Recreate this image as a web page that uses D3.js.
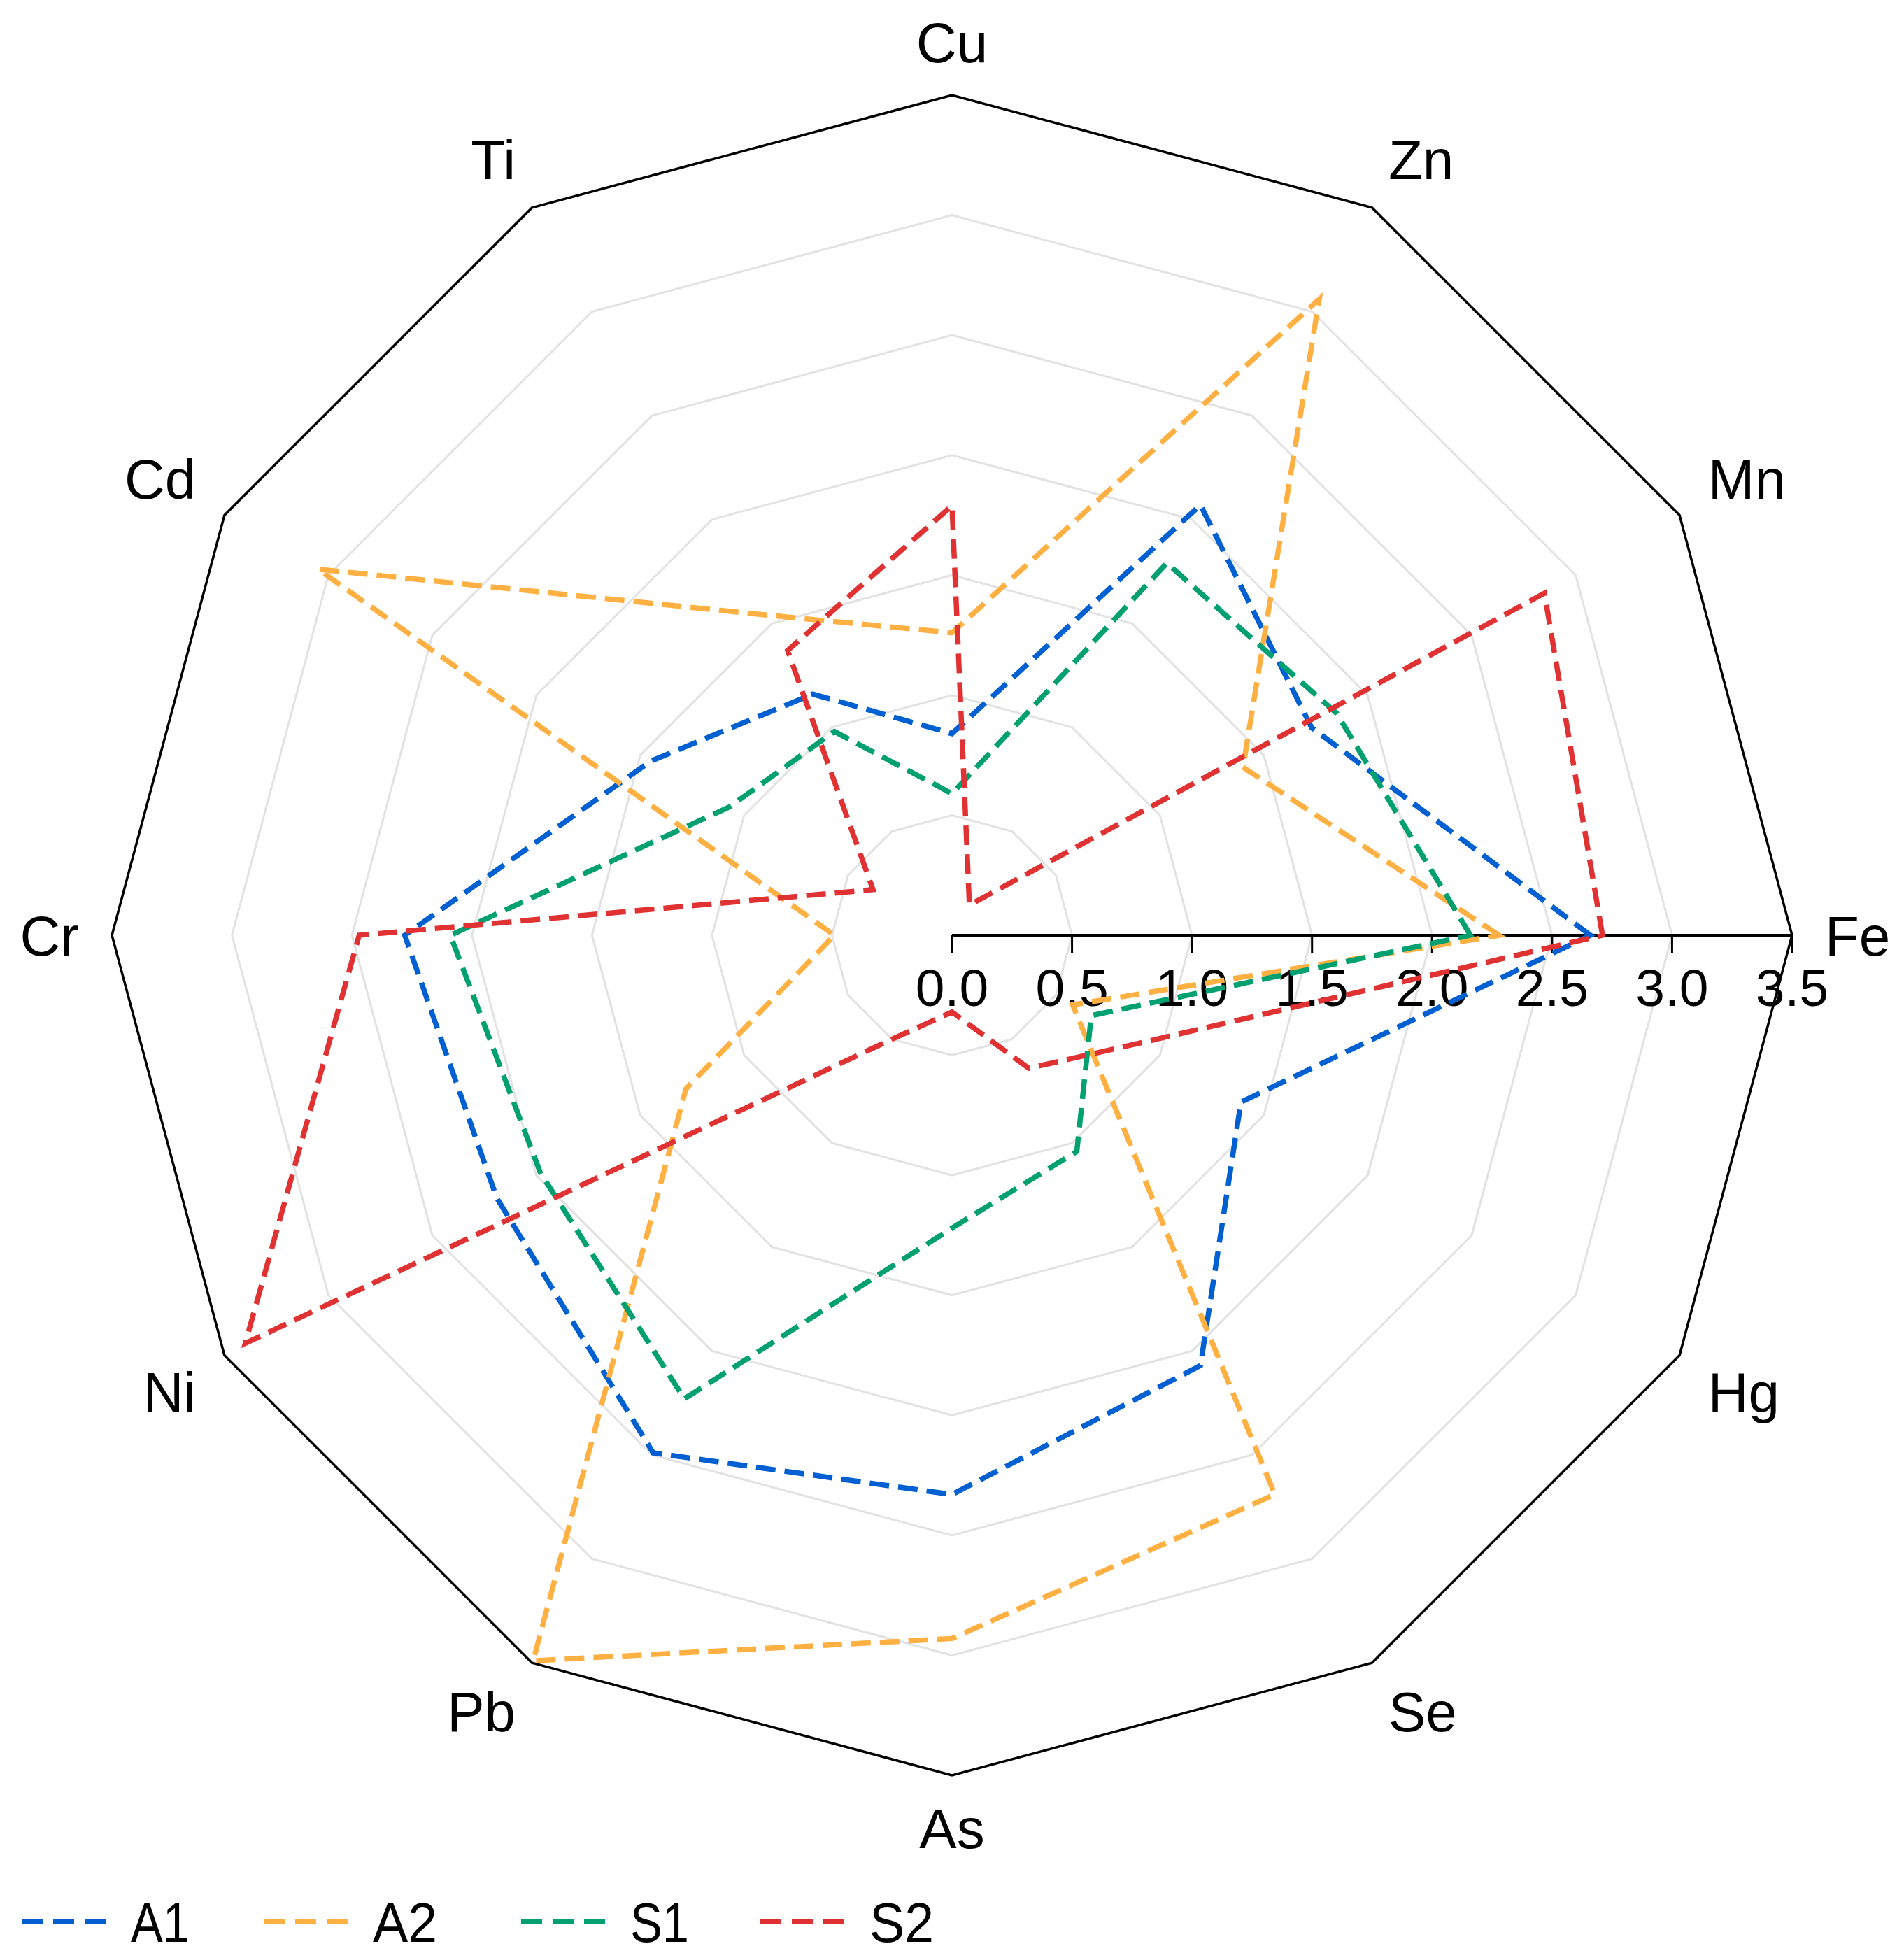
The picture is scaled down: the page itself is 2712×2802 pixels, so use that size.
<!DOCTYPE html>
<html>
<head>
<meta charset="utf-8">
<script src="https://cdn.jsdelivr.net/npm/d3@7"></script>
<style>
  html, body { margin: 0; padding: 0; background: #ffffff; }
  svg { display: block; }
  text { font-family: "Liberation Sans", Arial, Helvetica, sans-serif; fill: #000; }
</style>
</head>
<body>
<svg id="chart" width="2712" height="2802"></svg>
<script>
// ---- data ----
const categories = ["Fe", "Mn", "Zn", "Cu", "Ti", "Cd", "Cr", "Ni", "Pb", "As", "Se", "Hg"];
const seriesNames = ["A1", "A2", "S1", "S2"];
const A1 = [2.66, 1.73, 2.07, 0.84, 1.16, 1.45, 2.28, 2.19, 2.49, 2.33, 2.07, 1.39];
const A2 = [2.28, 1.40, 3.06, 1.26, 1.54, 3.05, 0.49, 1.28, 3.49, 2.93, 2.69, 0.58];
const S1 = [2.16, 1.85, 1.79, 0.59, 0.98, 1.07, 2.09, 1.98, 2.23, 1.22, 1.04, 0.67];
const S2 = [2.71, 2.85, 0.145, 1.79, 1.37, 0.38, 2.47, 3.40, 0.50, 0.32, 0.64, 0.90];
const seriesColors = ["#0060D2", "#FFB043", "#00A070", "#E03232"];
const ticks = [0.0, 0.5, 1.0, 1.5, 2.0, 2.5, 3.0, 3.5];
const tickLabels = ["0.0", "0.5", "1.0", "1.5", "2.0", "2.5", "3.0", "3.5"];
const gridLevels = [0.5, 1.0, 1.5, 2.0, 2.5, 3.0];
const maxValue = 3.5;

// ---- layout ----
const svg = d3.select("#chart");
const cx = 1361, cy = 1337, R = 1201;
const n = categories.length;
const r = d3.scaleLinear().domain([0, maxValue]).range([0, R]);
const angle = d3.scaleLinear().domain([0, n]).range([0, 2 * Math.PI]);
const pt = (i, v) => [cx + r(v) * Math.cos(angle(i)), cy - r(v) * Math.sin(angle(i))];

const ringLine = d3.line().curve(d3.curveLinearClosed);

// grid rings
const g = svg.append("g");
g.selectAll("path.grid")
  .data(gridLevels)
  .join("path")
  .attr("class", "grid")
  .attr("d", lv => ringLine(d3.range(n).map(i => pt(i, lv))))
  .attr("fill", "none")
  .attr("stroke", "#e2e2e2")
  .attr("stroke-width", 3);

// outer ring
g.append("path")
  .attr("d", ringLine(d3.range(n).map(i => pt(i, maxValue))))
  .attr("fill", "none")
  .attr("stroke", "#000")
  .attr("stroke-width", 3.5)
  .attr("stroke-linejoin", "miter");

// radial axis along Fe
const axisScale = d3.scaleLinear().domain([0, maxValue]).range([cx, cx + R]);
g.append("line")
  .attr("x1", axisScale(0)).attr("x2", axisScale(maxValue))
  .attr("y1", cy).attr("y2", cy)
  .attr("stroke", "#000").attr("stroke-width", 4);
g.selectAll("line.tick")
  .data(ticks)
  .join("line")
  .attr("class", "tick")
  .attr("x1", d => axisScale(d)).attr("x2", d => axisScale(d))
  .attr("y1", cy).attr("y2", cy + 25)
  .attr("stroke", "#000").attr("stroke-width", 3);
g.selectAll("text.ticklabel")
  .data(ticks)
  .join("text")
  .attr("class", "ticklabel")
  .attr("x", d => axisScale(d))
  .attr("y", cy + 101)
  .attr("text-anchor", "middle")
  .attr("font-size", 75)
  .text((d, i) => tickLabels[i]);

// category labels
const pad = 47, fs = 80, capH = 0.716 * fs;
svg.append("g").selectAll("text.cat")
  .data(categories)
  .join("text")
  .attr("class", "cat")
  .attr("font-size", fs)
  .attr("text-anchor", (d, i) => {
    const c = Math.cos(angle(i));
    return c > 0.1 ? "start" : (c < -0.1 ? "end" : "middle");
  })
  .attr("x", (d, i) => cx + (R + pad) * Math.cos(angle(i)))
  .attr("y", (d, i) => {
    const s = Math.sin(angle(i));
    const y = cy - (R + pad) * s;
    if (s > 0.1) return y;
    if (s < -0.1) return y + capH;
    return y + capH / 2;
  })
  .text(d => d);

// series
const seriesData = [A1, A2, S1, S2];
svg.append("g").selectAll("path.series")
  .data(seriesData)
  .join("path")
  .attr("class", "series")
  .attr("d", vals => ringLine(vals.map((v, i) => pt(i, v))))
  .attr("fill", "none")
  .attr("stroke", (d, i) => seriesColors[i])
  .attr("stroke-width", 7.5)
  .attr("stroke-dasharray", "28,13")
  .attr("stroke-linejoin", "miter");

const legendX = [31, 377, 745, 1087];
const leg = svg.append("g");
const ly = 2747;
seriesNames.forEach((name, i) => {
  const lx = legendX[i];
  leg.append("line")
    .attr("x1", lx).attr("x2", lx + 121)
    .attr("y1", ly).attr("y2", ly)
    .attr("stroke", seriesColors[i])
    .attr("stroke-width", 7.5)
    .attr("stroke-dasharray", "30,15");
  leg.append("text")
    .attr("x", lx + 156)
    .attr("y", ly + capH / 2)
    .attr("font-size", fs)
    .attr("textLength", name === "A2" ? 92 : (name === "S2" ? 92 : 84))
    .attr("lengthAdjust", "spacingAndGlyphs")
    .text(name);
});
</script>
</body>
</html>
